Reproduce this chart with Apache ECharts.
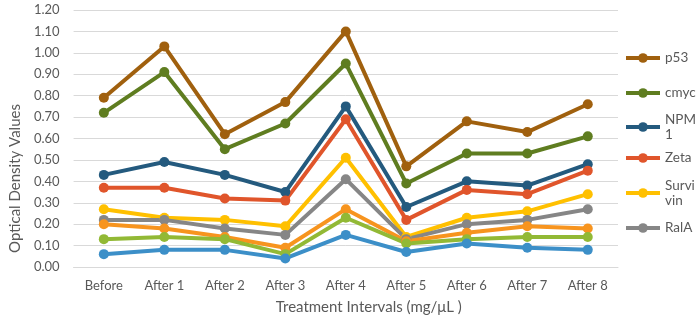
<!DOCTYPE html>
<html>
<head>
<meta charset="utf-8">
<script src="https://cdn.jsdelivr.net/npm/echarts@6/dist/echarts.min.js"></script>
<style>
  html, body { margin: 0; padding: 0; background: #fff; }
  #chart { width: 700px; height: 321px; }
</style>
</head>
<body>
<div id="chart"></div>
<script>
// data
const categories = ['Before', 'After 1', 'After 2', 'After 3', 'After 4', 'After 5', 'After 6', 'After 7', 'After 8']
const yTicks = [0, 0.1, 0.2, 0.3, 0.4, 0.5, 0.6, 0.7, 0.8, 0.9, 1.0, 1.1, 1.2]

const p53 = [0.79, 1.03, 0.62, 0.77, 1.10, 0.47, 0.68, 0.63, 0.76]
const cmyc = [0.72, 0.91, 0.55, 0.67, 0.95, 0.39, 0.53, 0.53, 0.61]
const npm1 = [0.43, 0.49, 0.43, 0.35, 0.75, 0.28, 0.40, 0.38, 0.48]
const zeta = [0.37, 0.37, 0.32, 0.31, 0.69, 0.22, 0.36, 0.34, 0.45]
const survivin = [0.27, 0.23, 0.22, 0.19, 0.51, 0.14, 0.23, 0.26, 0.34]
const ralA = [0.22, 0.22, 0.18, 0.15, 0.41, 0.13, 0.20, 0.22, 0.27]
// three more series whose legend entries are cut off in the original
const extra1 = [0.20, 0.18, 0.14, 0.09, 0.27, 0.12, 0.16, 0.19, 0.18]
const extra2 = [0.13, 0.14, 0.13, 0.06, 0.23, 0.11, 0.13, 0.14, 0.14]
const extra3 = [0.06, 0.08, 0.08, 0.04, 0.15, 0.07, 0.11, 0.09, 0.08]

const seriesList = [
  { name: 'p53', data: p53, color: '#A0600E' },
  { name: 'cmyc', data: cmyc, color: '#5F7D20' },
  { name: 'NPM1', data: npm1, color: '#245A7E' },
  { name: 'Zeta', data: zeta, color: '#E0552B' },
  { name: 'Survivin', data: survivin, color: '#FFC000' },
  { name: 'RalA', data: ralA, color: '#868686' },
  { name: 'series 7', data: extra1, color: '#F7941E' },
  { name: 'series 8', data: extra2, color: '#92B935' },
  { name: 'series 9', data: extra3, color: '#3C8FC8' }
]

const FONT = 'Lato'
const TXT = '#595959'

// legend entries as they wrap in the original box
const legendItems = [
  { name: 'p53', label: 'p53', top: 58, wrap: false },
  { name: 'cmyc', label: 'cmyc', top: 93, wrap: false },
  { name: 'NPM1', label: 'NPM\n1', top: 127, wrap: true },
  { name: 'Zeta', label: 'Zeta', top: 158, wrap: false },
  { name: 'Survivin', label: 'Survi\nvin', top: 193, wrap: true },
  { name: 'RalA', label: 'RalA', top: 228, wrap: false }
]

const legends = legendItems.map(it => ({
  orient: 'vertical',
  left: 624,
  top: it.wrap ? it.top - 22.5 : it.top - 7.5,
  data: [it.name],
  itemWidth: 34,
  itemHeight: 12,
  itemGap: 0,
  padding: 0,
  lineStyle: { width: 4 },
  formatter: () => it.label,
  textStyle: {
    fontFamily: FONT,
    fontSize: 13.5,
    color: TXT,
    lineHeight: 15,
    padding: it.wrap ? [15, 0, 0, 0] : 0
  },
  selectedMode: false
}))

const chart = echarts.init(document.getElementById('chart'))

chart.setOption({
  animation: false,
  backgroundColor: '#fff',
  legend: legends,
  grid: { left: 68, right: 82, top: 10, bottom: 54 },
  xAxis: {
    type: 'category',
    data: categories,
    boundaryGap: true,
    axisLine: { lineStyle: { color: '#D9D9D9', width: 1 } },
    axisTick: { show: false },
    axisLabel: { color: TXT, fontFamily: FONT, fontSize: 13, margin: 12 },
    name: 'Treatment Intervals (mg/\u03bcL )',
    nameLocation: 'middle',
    nameGap: 33,
    nameTextStyle: { color: TXT, fontFamily: FONT, fontSize: 15, padding: [0, 0, 0, 46] }
  },
  yAxis: {
    type: 'value',
    min: yTicks[0],
    max: yTicks[yTicks.length - 1],
    interval: 0.1,
    axisLine: { show: false },
    axisTick: { show: false },
    splitLine: { lineStyle: { color: '#D9D9D9', width: 1 } },
    axisLabel: { color: TXT, fontFamily: FONT, fontSize: 13, margin: 14, formatter: v => v.toFixed(2) },
    name: 'Optical Density Values',
    nameLocation: 'middle',
    nameGap: 50,
    nameTextStyle: { color: TXT, fontFamily: FONT, fontSize: 15, padding: [0, 80, 0, 0] }
  },
  series: seriesList.map(s => ({
    name: s.name,
    type: 'line',
    data: s.data,
    symbol: 'circle',
    symbolSize: 10,
    lineStyle: { color: s.color, width: 4 },
    itemStyle: { color: s.color },
    emphasis: { disabled: true }
  }))
})
</script>
</body>
</html>
